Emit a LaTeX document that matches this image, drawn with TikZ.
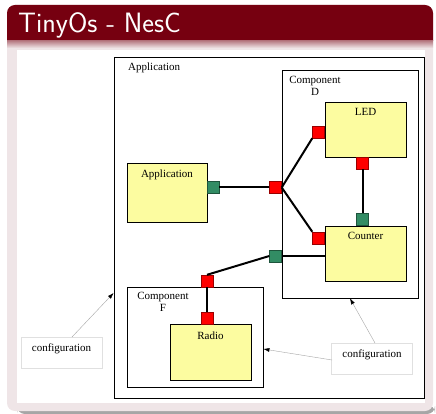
\documentclass[tikz,border=0pt]{standalone}
\usepackage{fontspec}
\setmainfont{Liberation Serif}
\usetikzlibrary{arrows.meta}

\definecolor{tituloRed}{RGB}{118,0,16}
\definecolor{corpoRosa}{RGB}{239,229,231}
\definecolor{caixaAmar}{RGB}{252,252,160}
\definecolor{portaVerde}{RGB}{50,140,100}

\begin{document}
\begin{tikzpicture}[
  x=1pt, y=-1pt,
  font=\fontsize{11}{12.5}\selectfont,
  modulo/.style={draw, line width=0.8pt, inner sep=0pt},
  caixa/.style={draw, line width=0.7pt, fill=caixaAmar, inner sep=0pt},
  portaR/.style={draw=red!60!black, line width=0.4pt, fill=red, inner sep=0pt, minimum size=12pt},
  portaV/.style={draw=portaVerde!60!black, line width=0.4pt, fill=portaVerde, inner sep=0pt, minimum size=12pt},
  rotulo/.style={anchor=base, inner sep=0pt, align=center},
  conf/.style={draw=black!12, line width=0.6pt, inner sep=0pt, minimum width=81pt, minimum height=31pt},
  fio/.style={line width=2pt},
  seta/.style={draw=black!35, line width=0.4pt, -{Latex[black, length=6pt, width=4pt]}},
]
\useasboundingbox (0,0) rectangle (436,414);

% ---- bloco do slide -------------------------------------------------------
\fill[black!35, rounded corners=8] (17,405) rectangle (435,414);
\fill[corpoRosa, rounded corners=8] (7,5) rectangle (433,411);
\fill[tituloRed] (7,41) [rounded corners=8] -- (7,5) -- (433,5) [sharp corners] -- (433,41) -- cycle;
\shade[top color=tituloRed!45!corpoRosa, bottom color=corpoRosa] (7,41) rectangle (433,48);
\fill[white] (17,50) rectangle (425,403);
\node[anchor=base west, inner sep=0pt, text=white, font=\sffamily\fontsize{28}{30}\selectfont] (titulo) at (18,33) {TinyOs - NesC};

% ---- modulos ---------------------------------------------------------------
\node[modulo, minimum width=310pt, minimum height=341pt] (app) at (269,227.5) {};
\node[rotulo, anchor=base west] (appTxt) at (128,71) {Application};

\node[modulo, minimum width=136pt, minimum height=228pt] (compD) at (350,184) {};
\node[rotulo, anchor=north] (compDTxt) at (315,76) {Component\\D};

\node[modulo, minimum width=136pt, minimum height=100pt] (compF) at (195,337) {};
\node[rotulo, anchor=north] (compFTxt) at (163,292) {Component\\F};

% ---- caixas amarelas ------------------------------------------------------
\node[caixa, minimum width=80pt, minimum height=59pt] (appBox) at (167,192.5) {};
\node[rotulo] (appBoxTxt) at (167,178) {Application};
\node[caixa, minimum width=81pt, minimum height=55pt] (led) at (365.5,129.5) {};
\node[rotulo] (ledTxt) at (365.5,116) {LED};
\node[caixa, minimum width=81pt, minimum height=55pt] (cnt) at (365.5,253.5) {};
\node[rotulo] (cntTxt) at (365.5,239) {Counter};
\node[caixa, minimum width=81pt, minimum height=56pt] (radio) at (210.5,352) {};
\node[rotulo] (radioTxt) at (210.5,339) {Radio};

% ---- portas -------------------------------------------------------------------
\node[portaV] (gApp) at (213,187.5) {};
\node[portaR] (rD)   at (275.5,187.5) {};
\node[portaR] (rLed) at (318.5,132) {};
\node[portaR] (rLedB) at (362.5,163) {};
\node[portaV] (gCnt) at (362.5,219.5) {};
\node[portaR] (rCnt) at (318.5,238) {};
\node[portaV] (gD)   at (275.5,256) {};
\node[portaR] (rF)   at (207,281) {};
\node[portaR] (rRad) at (207,318) {};

% ---- ligacoes --------------------------------------------------------------
\draw[fio] (gApp.east) -- (rD.west);
\draw[fio] (rD.east) -- (rLed.south west);
\draw[fio] (rD.east) -- (rCnt.north west);
\draw[fio] (rLedB.south) -- (gCnt.north);
\draw[fio] (gD.east) -- (gD.east -| cnt.west);
\draw[fio] (rF.north) -- (gD.west);
\draw[fio] (rF.south) -- (rRad.north);

% ---- configuracao ---------------------------------------------------------
\node[conf] (confE) at (61.5,352.5) {};
\node[rotulo] (confETxt) at (61.5,351) {configuration};
\node[conf] (confD) at (372,358.5) {};
\node[rotulo] (confDTxt) at (372,357) {configuration};

\coordinate (pE) at (72,337);
\coordinate (pD1) at (332,360);
\coordinate (pD2) at (375,343);
\draw[seta] (pE) -- (app.west |- 0,293);
\draw[seta] (pD1) -- (compF.east |- 0,349);
\draw[seta] (pD2) -- (compD.south -| 350,0);

\end{tikzpicture}
\end{document}
